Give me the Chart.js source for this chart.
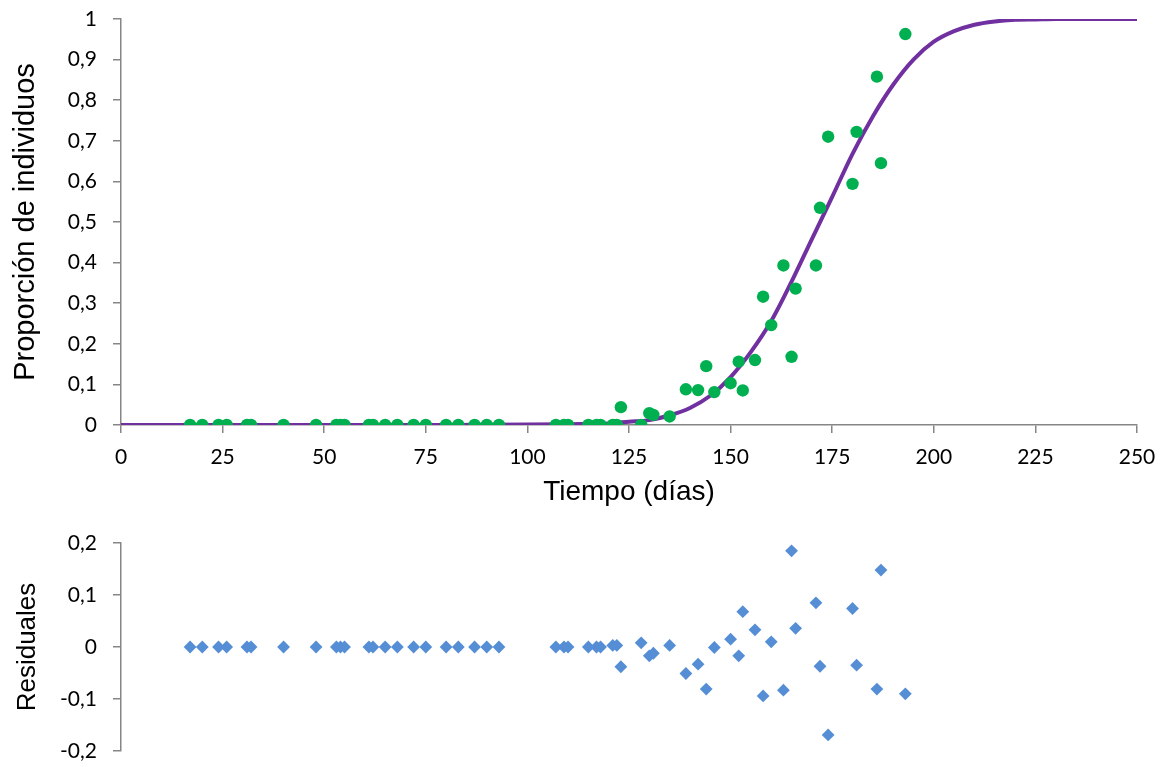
<!DOCTYPE html>
<html lang="es">
<head>
<meta charset="utf-8">
<title>Proporción de individuos y residuales</title>
<script src="https://cdn.jsdelivr.net/npm/chart.js@4.4.1/dist/chart.umd.min.js"></script>
<style>
  html, body { margin: 0; padding: 0; background: #ffffff; }
  #wrap { position: relative; width: 1170px; height: 767px; overflow: hidden; }
  #topBox { position: absolute; left: 0; top: 0; width: 1170px; height: 515px; }
  #botBox { position: absolute; left: 0; top: 520px; width: 1170px; height: 247px; }
</style>
</head>
<body>
<div id="wrap">
  <div id="topBox"><canvas id="fitChart" width="1170" height="515"></canvas></div>
  <div id="botBox"><canvas id="residChart" width="1170" height="247"></canvas></div>
</div>
<script>
// Observed sampling days
const days = [17, 20, 24, 26, 31, 32, 40, 48, 53, 54, 55, 61, 62, 65, 68, 72, 75, 80, 83, 87, 90, 93,
  107, 109, 110, 115, 117, 118, 121, 122,
  123, 128, 130, 131, 135, 139, 142, 144, 146, 150, 152, 153, 156, 158, 160, 163, 165, 166,
  171, 172, 174, 180, 181, 186, 187, 193];

// Observed proportion of individuals on each day
const observed = [0, 0, 0, 0, 0, 0, 0, 0, 0, 0, 0, 0, 0, 0, 0, 0, 0, 0, 0, 0, 0, 0,
  0, 0, 0, 0, 0, 0, 0, 0,
  0.044, 0, 0.029, 0.025, 0.021, 0.088, 0.086, 0.145, 0.081, 0.103, 0.156, 0.085, 0.160, 0.316, 0.246, 0.393, 0.168, 0.336,
  0.393, 0.535, 0.710, 0.594, 0.722, 0.858, 0.645, 0.963];

// Residuals (fitted minus observed) on the same days
const residuals = [0, 0, 0, 0, 0, 0, 0, 0, 0, 0, 0, 0, 0, 0, 0, 0, 0, 0, 0, 0, 0, 0,
  0, 0, 0, 0, 0, 0, 0.003, 0.003,
  -0.038, 0.008, -0.017, -0.012, 0.003, -0.051, -0.033, -0.081, -0.001, 0.015, -0.017, 0.068, 0.033, -0.094, 0.010, -0.083, 0.185, 0.036,
  0.085, -0.037, -0.169, 0.074, -0.035, -0.081, 0.148, -0.090];

// Fitted sigmoid curve, sampled along the time axis
const curveDays = [0, 20, 40, 60, 80, 100, 110, 115, 120, 125, 130, 135, 140, 145, 150, 155, 160, 165,
  170, 175, 180, 185, 190, 195, 200, 205, 210, 215, 220, 225, 230, 240, 250];
const curveValues = [0, 0, 0, 0, 0, 0.001, 0.002, 0.003, 0.004, 0.008, 0.012, 0.024, 0.042, 0.072, 0.118, 0.180, 0.256, 0.353,
  0.458, 0.562, 0.668, 0.760, 0.838, 0.900, 0.944, 0.970, 0.986, 0.994, 0.998, 0.999, 1, 1, 1];

// Tick labels
const dayTicks = ['0', '25', '50', '75', '100', '125', '150', '175', '200', '225', '250'];
const propTicks = ['0', '0,1', '0,2', '0,3', '0,4', '0,5', '0,6', '0,7', '0,8', '0,9', '1'];
const residTicks = ['-0,2', '-0,1', '0', '0,1', '0,2'];

const AXIS_GREY = '#868686';
const TICK_FONT = { family: 'Lato', size: 21 };
const TITLE_FAMILY = "'Liberation Sans', Arial, sans-serif";

function pairs(xs, ys) {
  return xs.map((x, i) => ({ x: x, y: ys[i] }));
}

// Vertical axes keep a fixed width and do not reserve extra room above/below
// for their end labels, so the plot area follows the layout padding.
const fixedWidth = (w) => function (scale) {
  scale.width = w;
  scale.paddingTop = 0;
  scale.paddingBottom = 0;
};
const fixedHeight = (h) => function (scale) { scale.height = h; };

// Upper panel: observed proportions with the fitted curve
new Chart(document.getElementById('fitChart'), {
  type: 'scatter',
  data: {
    datasets: [
      {
        label: 'Observado',
        data: pairs(days, observed),
        backgroundColor: '#00B050',
        borderColor: '#00B050',
        borderWidth: 0,
        pointRadius: 6.2,
        pointHoverRadius: 6.2,
        order: 0
      },
      {
        label: 'Ajuste',
        type: 'line',
        data: pairs(curveDays, curveValues),
        borderColor: '#7030A0',
        borderWidth: 4,
        pointRadius: 0,
        fill: false,
        cubicInterpolationMode: 'monotone',
        order: 1
      }
    ]
  },
  options: {
    responsive: false,
    animation: false,
    devicePixelRatio: 1,
    layout: { padding: { top: 19, right: 33, bottom: 0, left: 0 } },
    plugins: { legend: { display: false }, tooltip: { enabled: false } },
    scales: {
      x: {
        type: 'linear',
        min: 0,
        max: 250,
        afterFit: fixedHeight(90),
        border: { display: true, color: AXIS_GREY, width: 1.5 },
        grid: { drawOnChartArea: false, drawTicks: true, tickLength: 8, color: AXIS_GREY, lineWidth: 1.5 },
        ticks: {
          stepSize: 25,
          color: '#000000',
          font: TICK_FONT,
          padding: 12,
          maxRotation: 0,
          callback: (v) => dayTicks[Math.round(v / 25)]
        },
        title: {
          display: true,
          text: 'Tiempo (días)',
          color: '#000000',
          font: { family: TITLE_FAMILY, size: 28 },
          padding: { top: 0, bottom: 6 }
        }
      },
      y: {
        type: 'linear',
        min: 0,
        max: 1,
        afterFit: fixedWidth(121),
        border: { display: true, color: AXIS_GREY, width: 1.5 },
        grid: { drawOnChartArea: false, drawTicks: true, tickLength: 8, color: AXIS_GREY, lineWidth: 1.5 },
        ticks: {
          stepSize: 0.1,
          color: '#000000',
          font: TICK_FONT,
          padding: 16,
          callback: (v) => propTicks[Math.round(v * 10)]
        },
        title: {
          display: true,
          text: 'Proporción de individuos',
          color: '#000000',
          font: { family: TITLE_FAMILY, size: 29 },
          padding: { top: 9, bottom: 0 }
        }
      }
    }
  }
});

// Lower panel: residuals against time
new Chart(document.getElementById('residChart'), {
  type: 'scatter',
  data: {
    datasets: [
      {
        label: 'Residuales',
        data: pairs(days, residuals),
        pointStyle: 'rectRot',
        backgroundColor: '#558ED5',
        borderColor: '#558ED5',
        borderWidth: 0,
        pointRadius: 6.4,
        pointHoverRadius: 6.4
      }
    ]
  },
  options: {
    responsive: false,
    animation: false,
    devicePixelRatio: 1,
    layout: { padding: { top: 23, right: 33, bottom: 16, left: 0 } },
    plugins: { legend: { display: false }, tooltip: { enabled: false } },
    scales: {
      x: {
        type: 'linear',
        min: 0,
        max: 250,
        display: false
      },
      y: {
        type: 'linear',
        min: -0.2,
        max: 0.2,
        afterFit: fixedWidth(121),
        border: { display: true, color: AXIS_GREY, width: 1.5 },
        grid: { drawOnChartArea: false, drawTicks: true, tickLength: 8, color: AXIS_GREY, lineWidth: 1.5 },
        ticks: {
          stepSize: 0.1,
          color: '#000000',
          font: TICK_FONT,
          padding: 16,
          callback: (v) => residTicks[Math.round((v + 0.2) * 10)]
        },
        title: {
          display: true,
          text: 'Residuales',
          color: '#000000',
          font: { family: TITLE_FAMILY, size: 26 },
          padding: { top: 12, bottom: 0 }
        }
      }
    }
  }
});
</script>
</body>
</html>
